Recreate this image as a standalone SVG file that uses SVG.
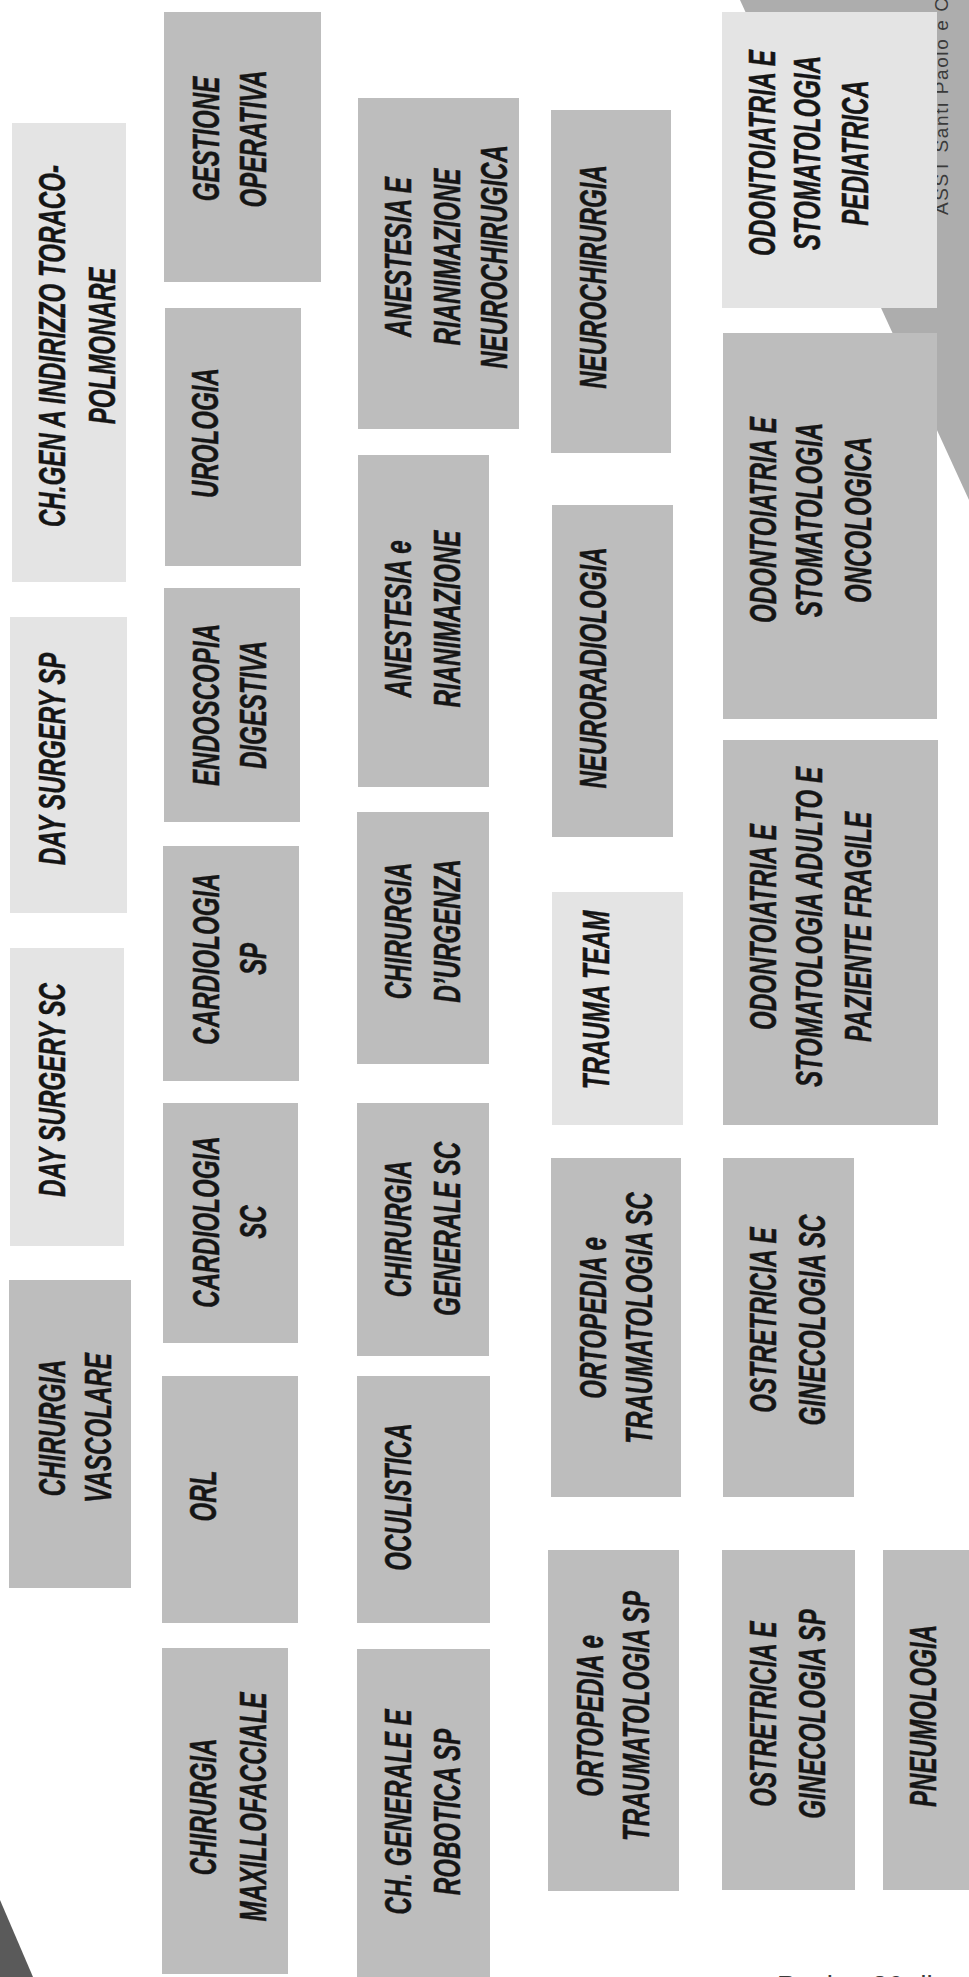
<svg xmlns="http://www.w3.org/2000/svg" width="969" height="1977" viewBox="0 0 969 1977">
<style>
.bg{fill:#ffffff}
.m{fill:#bdbdbd}
.l{fill:#e4e4e4}
.t{font-family:"Liberation Sans",Arial,sans-serif;font-weight:bold;font-style:italic;font-size:37px;fill:#151515;stroke:#151515;stroke-width:0.5;text-anchor:middle}
.f{font-family:"Liberation Sans",Arial,sans-serif;fill:#3a3a3a}
</style>
<rect class="bg" x="0" y="0" width="969" height="1977"/>
<g id="decor">
<polygon points="740,0 969,0 969,500" fill="#adadad"/>
<polygon points="0,1900 33,1977 0,1977" fill="#5a5a5a"/>
<text class="f" font-size="19" letter-spacing="1.6" transform="translate(948,215) rotate(-90)">ASST Santi Paolo e Carlo</text>
<text class="f" font-size="28" x="777" y="1995">Pagina 36 di</text>
</g>
<g id="connectors"/>
<g id="chgen"><rect class="l" x="12" y="123" width="114" height="459"/><text class="t" transform="translate(0,346) rotate(-90) scale(0.652,1)"><tspan x="0" y="65">CH.GEN A INDIRIZZO TORACO-</tspan><tspan x="0" y="115">POLMONARE</tspan></text></g>
<g id="day_sp"><rect class="l" x="10" y="617" width="117" height="296"/><text class="t" transform="translate(0,759) rotate(-90) scale(0.652,1)"><tspan x="0" y="65">DAY SURGERY SP</tspan></text></g>
<g id="day_sc"><rect class="l" x="10" y="948" width="114" height="298"/><text class="t" transform="translate(0,1090) rotate(-90) scale(0.652,1)"><tspan x="0" y="65">DAY SURGERY SC</tspan></text></g>
<g id="chir_vasc"><rect class="m" x="9" y="1280" width="122" height="308"/><text class="t" transform="translate(0,1428) rotate(-90) scale(0.652,1)"><tspan x="0" y="65">CHIRURGIA</tspan><tspan x="0" y="111">VASCOLARE</tspan></text></g>
<g id="gestione"><rect class="m" x="164" y="12" width="157" height="270"/><text class="t" transform="translate(0,139) rotate(-90) scale(0.652,1)"><tspan x="0" y="219">GESTIONE</tspan><tspan x="0" y="266">OPERATIVA</tspan></text></g>
<g id="urologia"><rect class="m" x="165" y="308" width="136" height="258"/><text class="t" transform="translate(0,433) rotate(-90) scale(0.652,1)"><tspan x="0" y="218">UROLOGIA</tspan></text></g>
<g id="endoscopia"><rect class="m" x="164" y="588" width="136" height="234"/><text class="t" transform="translate(0,705) rotate(-90) scale(0.652,1)"><tspan x="0" y="219">ENDOSCOPIA</tspan><tspan x="0" y="266">DIGESTIVA</tspan></text></g>
<g id="cardio_sp"><rect class="m" x="163" y="846" width="136" height="235"/><text class="t" transform="translate(0,959) rotate(-90) scale(0.652,1)"><tspan x="0" y="219">CARDIOLOGIA</tspan><tspan x="0" y="266">SP</tspan></text></g>
<g id="cardio_sc"><rect class="m" x="163" y="1103" width="135" height="240"/><text class="t" transform="translate(0,1222) rotate(-90) scale(0.652,1)"><tspan x="0" y="219">CARDIOLOGIA</tspan><tspan x="0" y="266">SC</tspan></text></g>
<g id="orl"><rect class="m" x="162" y="1376" width="136" height="247"/><text class="t" transform="translate(0,1496) rotate(-90) scale(0.652,1)"><tspan x="0" y="216">ORL</tspan></text></g>
<g id="maxillo"><rect class="m" x="162" y="1648" width="126" height="326"/><text class="t" transform="translate(0,1807) rotate(-90) scale(0.652,1)"><tspan x="0" y="216">CHIRURGIA</tspan><tspan x="0" y="266">MAXILLOFACCIALE</tspan></text></g>
<g id="anest_neuro"><rect class="m" x="358" y="98" width="161" height="331"/><text class="t" transform="translate(0,257) rotate(-90) scale(0.652,1)"><tspan x="0" y="411">ANESTESIA E</tspan><tspan x="0" y="460">RIANIMAZIONE</tspan><tspan x="0" y="507">NEUROCHIRUGICA</tspan></text></g>
<g id="anest"><rect class="m" x="358" y="455" width="131" height="332"/><text class="t" transform="translate(0,619) rotate(-90) scale(0.652,1)"><tspan x="0" y="411">ANESTESIA e</tspan><tspan x="0" y="460">RIANIMAZIONE</tspan></text></g>
<g id="urgenza"><rect class="m" x="357" y="812" width="132" height="252"/><text class="t" transform="translate(0,931) rotate(-90) scale(0.652,1)"><tspan x="0" y="411">CHIRURGIA</tspan><tspan x="0" y="460">D’URGENZA</tspan></text></g>
<g id="chir_gen_sc"><rect class="m" x="357" y="1103" width="132" height="253"/><text class="t" transform="translate(0,1229) rotate(-90) scale(0.652,1)"><tspan x="0" y="411">CHIRURGIA</tspan><tspan x="0" y="460">GENERALE SC</tspan></text></g>
<g id="oculistica"><rect class="m" x="357" y="1376" width="133" height="247"/><text class="t" transform="translate(0,1497) rotate(-90) scale(0.652,1)"><tspan x="0" y="411">OCULISTICA</tspan></text></g>
<g id="robotica"><rect class="m" x="357" y="1649" width="133" height="330"/><text class="t" transform="translate(0,1812) rotate(-90) scale(0.652,1)"><tspan x="0" y="411">CH. GENERALE E</tspan><tspan x="0" y="460">ROBOTICA SP</tspan></text></g>
<g id="neurochir"><rect class="m" x="551" y="110" width="120" height="343"/><text class="t" transform="translate(0,277) rotate(-90) scale(0.652,1)"><tspan x="0" y="606">NEUROCHIRURGIA</tspan></text></g>
<g id="neurorad"><rect class="m" x="552" y="505" width="121" height="332"/><text class="t" transform="translate(0,668) rotate(-90) scale(0.652,1)"><tspan x="0" y="606">NEURORADIOLOGIA</tspan></text></g>
<g id="trauma"><rect class="l" x="552" y="892" width="131" height="233"/><text class="t" transform="translate(0,1000) rotate(-90) scale(0.652,1)"><tspan x="0" y="609">TRAUMA TEAM</tspan></text></g>
<g id="orto_sc"><rect class="m" x="551" y="1158" width="130" height="339"/><text class="t" transform="translate(0,1318) rotate(-90) scale(0.652,1)"><tspan x="0" y="606">ORTOPEDIA e</tspan><tspan x="0" y="652">TRAUMATOLOGIA SC</tspan></text></g>
<g id="orto_sp"><rect class="m" x="548" y="1550" width="131" height="341"/><text class="t" transform="translate(0,1716) rotate(-90) scale(0.652,1)"><tspan x="0" y="603">ORTOPEDIA e</tspan><tspan x="0" y="649">TRAUMATOLOGIA SP</tspan></text></g>
<g id="odo_ped"><rect class="l" x="722" y="12" width="215" height="296"/><text class="t" transform="translate(0,153) rotate(-90) scale(0.652,1)"><tspan x="0" y="775">ODONTOIATRIA E</tspan><tspan x="0" y="820">STOMATOLOGIA</tspan><tspan x="0" y="868">PEDIATRICA</tspan></text></g>
<g id="odo_onc"><rect class="m" x="723" y="333" width="214" height="386"/><text class="t" transform="translate(0,520) rotate(-90) scale(0.652,1)"><tspan x="0" y="776">ODONTOIATRIA E</tspan><tspan x="0" y="822">STOMATOLOGIA</tspan><tspan x="0" y="871">ONCOLOGICA</tspan></text></g>
<g id="odo_adulto"><rect class="m" x="723" y="740" width="215" height="385"/><text class="t" transform="translate(0,927) rotate(-90) scale(0.652,1)"><tspan x="0" y="776">ODONTOIATRIA E</tspan><tspan x="0" y="822">STOMATOLOGIA  ADULTO E</tspan><tspan x="0" y="871">PAZIENTE FRAGILE</tspan></text></g>
<g id="ostr_sc"><rect class="m" x="723" y="1158" width="131" height="339"/><text class="t" transform="translate(0,1320) rotate(-90) scale(0.652,1)"><tspan x="0" y="776">OSTRETRICIA E</tspan><tspan x="0" y="825">GINECOLOGIA SC</tspan></text></g>
<g id="ostr_sp"><rect class="m" x="722" y="1550" width="133" height="340"/><text class="t" transform="translate(0,1714) rotate(-90) scale(0.652,1)"><tspan x="0" y="776">OSTRETRICIA E</tspan><tspan x="0" y="825">GINECOLOGIA SP</tspan></text></g>
<g id="pneumo"><rect class="m" x="883" y="1550" width="90" height="340"/><text class="t" transform="translate(0,1716) rotate(-90) scale(0.652,1)"><tspan x="0" y="936">PNEUMOLOGIA</tspan></text></g>
</svg>
